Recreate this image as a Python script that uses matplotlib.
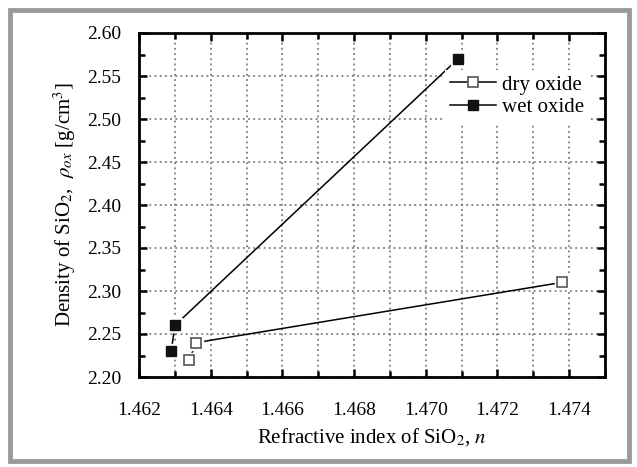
import matplotlib
matplotlib.use("Agg")
import matplotlib.pyplot as plt
from matplotlib.patches import Rectangle
from matplotlib.ticker import MultipleLocator, FormatStrFormatter

plt.rcParams['font.family'] = ['Liberation Serif', 'DejaVu Serif']
plt.rcParams['mathtext.fontset'] = 'stix'

# data
dry_n = [1.4634, 1.4636, 1.4738]
dry_rho = [2.22, 2.24, 2.31]
wet_n = [1.4629, 1.4630, 1.4709]
wet_rho = [2.23, 2.26, 2.57]

fig = plt.figure(figsize=(6.37, 4.67), dpi=100)
ax = fig.add_axes([139/637, 1-377/467, 466/637, 344/467])

# grey frame round the whole figure
fig.patches.append(Rectangle((9.5/637, 6/467), 619/637, 451.5/467, transform=fig.transFigure,
                             fill=False, edgecolor='#9a9a9a', linewidth=3.5))

# lines first, white halo squares to make the Origin-style gaps, then markers
ax.plot(dry_n, dry_rho, color='black', lw=1.1, zorder=3)
ax.plot(wet_n, wet_rho, color='black', lw=1.1, zorder=3)
ax.plot(dry_n, dry_rho, ls='none', marker='s', ms=10, mfc='white', mec='white', zorder=4)
ax.plot(wet_n, wet_rho, ls='none', marker='s', ms=10, mfc='white', mec='white', zorder=4)

ax.plot([], [], color='black', lw=1.1, marker='s', ms=7, mfc='white', mec='#555555',
        mew=1.2, label='dry oxide')
ax.plot([], [], color='black', lw=1.1, marker='s', ms=7, mfc='#111111', mec='#111111',
        label='wet oxide')
ax.plot(dry_n, dry_rho, ls='none', marker='s', ms=7, mfc='white', mec='#555555', mew=1.2, zorder=5)
ax.plot(wet_n, wet_rho, ls='none', marker='s', ms=7, mfc='#111111', mec='#111111', zorder=5)

ax.set_xlim(1.462, 1.475)
ax.set_ylim(2.20, 2.60)
ax.xaxis.set_major_locator(MultipleLocator(0.002))
ax.xaxis.set_minor_locator(MultipleLocator(0.001))
ax.yaxis.set_major_locator(MultipleLocator(0.05))
ax.yaxis.set_minor_locator(MultipleLocator(0.025))
ax.xaxis.set_major_formatter(FormatStrFormatter('%.3f'))
ax.yaxis.set_major_formatter(FormatStrFormatter('%.2f'))

ax.grid(True, which='major', axis='both', ls=(0, (1.2, 2.2)), color='#666666', lw=1.1)
ax.grid(True, which='minor', axis='x', ls=(0, (1.2, 2.2)), color='#666666', lw=1.1)
ax.set_axisbelow(True)

for s in ax.spines.values():
    s.set_linewidth(2.0)
ax.tick_params(which='both', direction='in', top=True, right=True, width=1.8, labelsize=14)
ax.tick_params(which='major', length=6)
ax.tick_params(which='minor', length=4)
ax.tick_params(axis='x', which='major', pad=18)
ax.tick_params(axis='y', which='major', pad=13)

ax.set_xlabel(r'Refractive index of SiO$_2$, $n$', fontsize=15, labelpad=5)
ax.set_ylabel(r'Density of SiO$_2$,  $\rho_{ox}$ [g/cm$^3$]', fontsize=15, labelpad=6)

leg = ax.legend(loc='upper left', bbox_to_anchor=((445-139)/466, 1-(70-33)/344), frameon=True,
                fontsize=15, borderpad=0.25, handlelength=2.2, handletextpad=0.3,
                labelspacing=0.15, borderaxespad=0, fancybox=False)
leg.get_frame().set_edgecolor('none')
leg.get_frame().set_facecolor('white')
leg.get_frame().set_alpha(1)
leg.set_zorder(6)

fig.savefig('out.png', dpi=100)
